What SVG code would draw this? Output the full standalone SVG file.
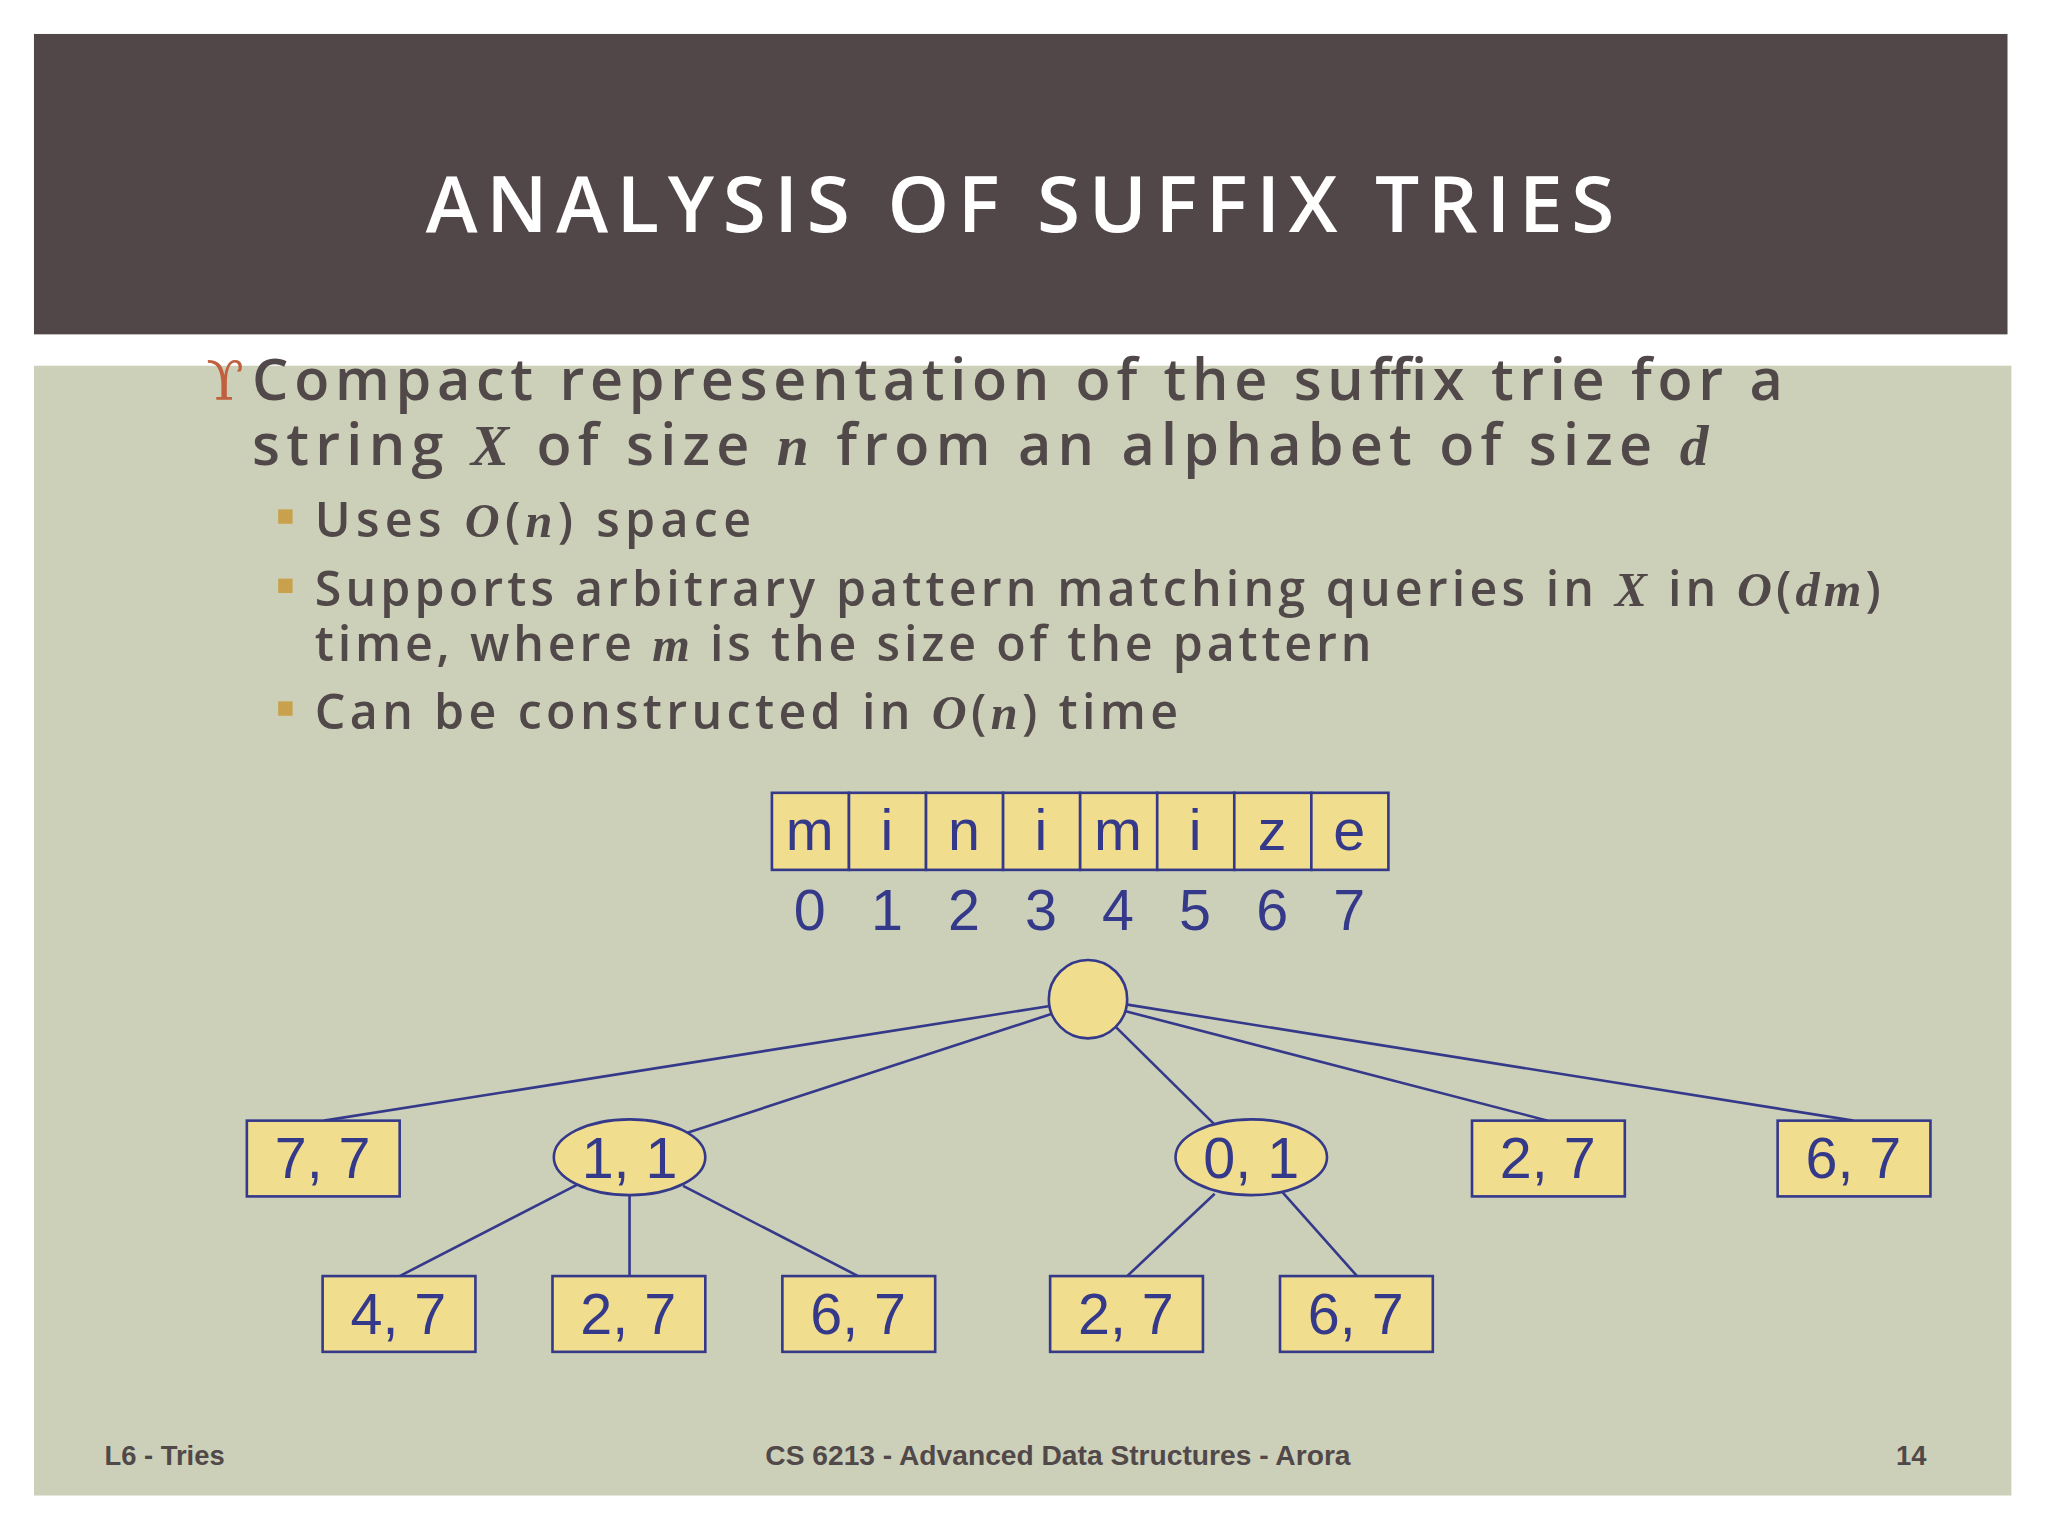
<svg xmlns="http://www.w3.org/2000/svg" width="2048" height="1536" viewBox="0 0 2048 1536">
<style>
.h{font-family:"Open Sans","Liberation Sans",sans-serif;font-weight:600;fill:#514849}
.n{fill:#f1dd8e;stroke:#35398a;stroke-width:2}
.t{font-family:"Liberation Sans",Arial,sans-serif;font-size:44px;fill:#35398a;text-anchor:middle}
.m{font-family:"Liberation Serif",serif;font-style:italic;font-weight:bold}
.e{stroke:#35398a;stroke-width:2;fill:none}
.f{font-family:"Liberation Sans",Arial,sans-serif;font-size:21px;fill:#514849;font-weight:bold}
.sq{fill:#c9a04b}
</style>
<rect width="2048" height="1536" fill="#fff"/>
<g transform="scale(1.30612)">
<rect x="26" y="26" width="1511" height="230" fill="#524748"/>
<text x="326" y="178" font-family="Open Sans,Liberation Sans,sans-serif" font-size="60" font-weight="600" fill="#fff" textLength="910" lengthAdjust="spacing">ANALYSIS OF SUFFIX TRIES</text>
<rect x="26" y="280" width="1514" height="865" fill="#cdd0b9"/>
<text x="158" y="306" font-family="DejaVu Serif,serif" font-size="42" fill="#c0603f">ϒ</text>
<text class="h" x="193" y="306" font-size="44" textLength="1172" lengthAdjust="spacing">Compact representation of the suffix trie for a</text>
<text class="h" x="193" y="356" font-size="44" textLength="1115" lengthAdjust="spacing">string <tspan class="m">X</tspan> of size <tspan class="m">n</tspan> from an alphabet of size <tspan class="m">d</tspan></text>
<rect class="sq" x="213" y="390" width="11" height="11"/>
<rect class="sq" x="213" y="443" width="11" height="11"/>
<rect class="sq" x="213" y="537" width="11" height="11"/>
<text class="h" x="241" y="411" font-size="37" textLength="334" lengthAdjust="spacing">Uses <tspan class="m">O</tspan>(<tspan class="m">n</tspan>) space</text>
<text class="h" x="241" y="464" font-size="37" textLength="1199" lengthAdjust="spacing">Supports arbitrary pattern matching queries in <tspan class="m">X</tspan> in <tspan class="m">O</tspan>(<tspan class="m">dm</tspan>)</text>
<text class="h" x="241" y="506" font-size="37" textLength="809" lengthAdjust="spacing">time, where <tspan class="m">m</tspan> is the size of the pattern</text>
<text class="h" x="241" y="558" font-size="37" textLength="661" lengthAdjust="spacing">Can be constructed in <tspan class="m">O</tspan>(<tspan class="m">n</tspan>) time</text>
<g id="array">
<rect class="n" x="591" y="607" width="59" height="59"/><rect class="n" x="650" y="607" width="59" height="59"/><rect class="n" x="709" y="607" width="59" height="59"/><rect class="n" x="768" y="607" width="59" height="59"/><rect class="n" x="827" y="607" width="59" height="59"/><rect class="n" x="886" y="607" width="59" height="59"/><rect class="n" x="945" y="607" width="59" height="59"/><rect class="n" x="1004" y="607" width="59" height="59"/>
<text class="t" y="651"><tspan x="620">m</tspan><tspan x="679">i</tspan><tspan x="738">n</tspan><tspan x="797">i</tspan><tspan x="856">m</tspan><tspan x="915">i</tspan><tspan x="974">z</tspan><tspan x="1033">e</tspan></text>
<text class="t" y="712"><tspan x="620">0</tspan><tspan x="679">1</tspan><tspan x="738">2</tspan><tspan x="797">3</tspan><tspan x="856">4</tspan><tspan x="915">5</tspan><tspan x="974">6</tspan><tspan x="1033">7</tspan></text>
</g>
<g id="edges">
<line class="e" x1="805" y1="770" x2="248" y2="858"/>
<line class="e" x1="806" y1="776" x2="518" y2="870"/>
<line class="e" x1="854" y1="786" x2="930" y2="861"/>
<line class="e" x1="861" y1="774" x2="1185" y2="858"/>
<line class="e" x1="862" y1="769" x2="1419" y2="858"/>
<line class="e" x1="442" y1="907" x2="306" y2="977"/>
<line class="e" x1="482" y1="915" x2="482" y2="977"/>
<line class="e" x1="523" y1="908" x2="657" y2="977"/>
<line class="e" x1="930" y1="914" x2="863" y2="977"/>
<line class="e" x1="982" y1="913" x2="1039" y2="977"/>
</g>
<g id="root"><circle class="n" cx="833" cy="765" r="30"/></g>
<g id="n77"><rect class="n" x="189" y="858" width="117" height="58"/><text class="t" x="247" y="902">7, 7</text></g>
<g id="n11"><ellipse class="n" cx="482" cy="886" rx="58" ry="29"/><text class="t" x="482" y="902">1, 1</text></g>
<g id="n01"><ellipse class="n" cx="958" cy="886" rx="58" ry="29"/><text class="t" x="958" y="902">0, 1</text></g>
<g id="n27a"><rect class="n" x="1127" y="858" width="117" height="58"/><text class="t" x="1185" y="902">2, 7</text></g>
<g id="n67a"><rect class="n" x="1361" y="858" width="117" height="58"/><text class="t" x="1419" y="902">6, 7</text></g>
<g id="n47"><rect class="n" x="247" y="977" width="117" height="58"/><text class="t" x="305" y="1021">4, 7</text></g>
<g id="n27b"><rect class="n" x="423" y="977" width="117" height="58"/><text class="t" x="481" y="1021">2, 7</text></g>
<g id="n67b"><rect class="n" x="599" y="977" width="117" height="58"/><text class="t" x="657" y="1021">6, 7</text></g>
<g id="n27c"><rect class="n" x="804" y="977" width="117" height="58"/><text class="t" x="862" y="1021">2, 7</text></g>
<g id="n67c"><rect class="n" x="980" y="977" width="117" height="58"/><text class="t" x="1038" y="1021">6, 7</text></g>
<text class="f" x="80" y="1122" textLength="92" lengthAdjust="spacingAndGlyphs">L6 - Tries</text>
<text class="f" x="586" y="1122" textLength="448" lengthAdjust="spacingAndGlyphs">CS 6213 - Advanced Data Structures - Arora</text>
<text class="f" x="1475" y="1122" text-anchor="end">14</text>
</g>
</svg>
